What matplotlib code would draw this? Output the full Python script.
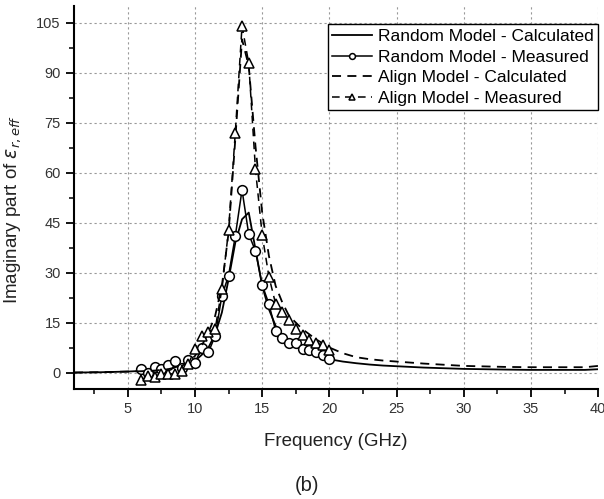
import numpy as np
import matplotlib
matplotlib.use('Agg')
import matplotlib.pyplot as plt
from matplotlib.ticker import MultipleLocator

plt.rcParams['font.family'] = ['Liberation Sans', 'DejaVu Sans']
plt.rcParams['mathtext.fontset'] = 'dejavusans'

# calculated curves
f_calc = [1, 2, 3, 4, 5, 6, 7, 8, 9, 9.5, 10, 10.5, 11, 11.5, 12, 12.5, 13, 13.5, 14,
          14.5, 15, 15.5, 16, 16.5, 17, 18, 19, 20, 21, 22, 23, 24, 25, 27, 30, 33, 35, 38, 39, 40]
random_calc = [0, 0.05, 0.1, 0.2, 0.3, 0.5, 0.8, 1.2, 2.0, 2.7, 3.5, 5.3, 7.5, 11.5, 18, 28, 39, 46, 48,
               37, 26, 19, 14, 11, 9, 7, 5.5, 4.0, 3.3, 2.8, 2.4, 2.1, 1.9, 1.5, 1.1, 0.9, 0.8, 0.8, 0.8, 1.0]
align_calc = [0, 0.05, 0.1, 0.2, 0.3, 0.4, 0.6, 1.0, 2.0, 3.0, 5.0, 8.0, 12, 17, 26, 42, 70, 100, 92,
              68, 48, 35, 26, 21, 17, 13, 10, 7.5, 5.8, 4.6, 4.0, 3.6, 3.3, 2.7, 2.0, 1.7, 1.6, 1.6, 1.6, 2.0]

# measured points
f_meas = [6.0, 6.5, 7.0, 7.5, 8.0, 8.5, 9.0, 9.5, 10.0, 10.5, 11.0, 11.5, 12.0, 12.5, 13.0,
          13.5, 14.0, 14.5, 15.0, 15.5, 16.0, 16.5, 17.0, 17.5, 18.0, 18.5, 19.0, 19.5, 20.0]
random_meas = [1.1, 0.0, 1.8, 1.0, 2.3, 3.5, 1.3, 3.8, 3.0, 7.3, 6.1, 11.0, 23.0, 29.1, 41.0,
               54.8, 41.5, 36.5, 26.3, 20.6, 12.6, 10.3, 8.8, 8.8, 7.0, 6.8, 6.3, 5.3, 4.0]
align_meas = [-2.2, -1.0, -1.2, -0.4, -0.4, -0.4, 0.6, 2.5, 7.0, 11.0, 12.3, 13.0, 25.0, 42.8, 72.0,
              104.0, 92.8, 61.0, 41.3, 28.8, 20.6, 18.3, 15.8, 13.0, 11.3, 9.8, 8.8, 8.3, 6.8]

fig = plt.figure(figsize=(6.04, 4.99), dpi=100)
ax = fig.add_axes([0.1225, 0.22, 0.868, 0.768])

ax.plot(f_calc, random_calc, color='black', lw=1.3, label='Random Model - Calculated')
ax.plot(f_meas, random_meas, color='black', lw=1.1, marker='o', ms=7, mfc='white',
        mec='black', mew=1.1, label='Random Model - Measured')
ax.plot(f_calc, align_calc, color='black', lw=1.3, ls=(0, (5, 3.5)), label='Align Model - Calculated')
ax.plot(f_meas, align_meas, color='black', lw=1.1, ls=(0, (5, 3.5)), marker='^', ms=7.5, mfc='white',
        mec='black', mew=1.1, label='Align Model - Measured')

ax.set_xlim(1, 40)
ax.set_ylim(-5, 110)
ax.xaxis.set_major_locator(MultipleLocator(5))
ax.xaxis.set_minor_locator(MultipleLocator(2.5))
ax.yaxis.set_major_locator(MultipleLocator(15))
ax.yaxis.set_minor_locator(MultipleLocator(7.5))
ax.tick_params(which='major', direction='out', length=6, width=1.3, labelsize=10.5, colors='black')
ax.tick_params(which='minor', direction='out', length=3.5, width=1.1)
ax.tick_params(axis='both', labelcolor='#333333')

ax.grid(True, which='major', ls=(0, (2, 2.5)), color='#999999', lw=0.8)
ax.set_axisbelow(True)
for s in ['top', 'right']:
    ax.spines[s].set_visible(False)
for s in ['left', 'bottom']:
    ax.spines[s].set_linewidth(1.5)

ax.set_xlabel('Frequency (GHz)', fontsize=13.5, color='#222222', labelpad=12)
ax.set_ylabel(r'Imaginary part of $\varepsilon_{r,eff}$', fontsize=13.5, color='#222222', labelpad=6)
ax.yaxis.set_label_coords(-0.098, 0.47)

leg = ax.legend(loc='upper right', bbox_to_anchor=(1.0, 0.952), fontsize=12.5, frameon=True,
                fancybox=False, edgecolor='black', handlelength=2.3, handletextpad=0.35,
                borderpad=0.25, labelspacing=0.32, borderaxespad=0.0, markerscale=0.6)
leg.get_frame().set_linewidth(1.0)
leg.get_frame().set_alpha(1)

fig.text(0.508, 0.028, '(b)', fontsize=14.5, ha='center', va='center', color='#222222')

fig.savefig('out.png', dpi=100)
